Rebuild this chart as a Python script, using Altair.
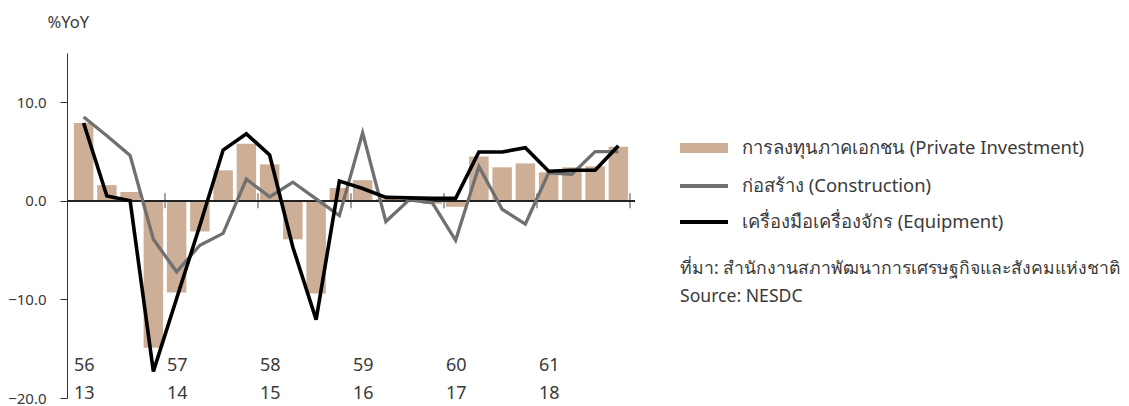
import altair as alt
import pandas as pd

# ---- data -------------------------------------------------------------
quarters = [f"{y}Q{q}" for y in range(2013, 2019) for q in range(1, 5)]
private_inv = [7.9, 1.6, 0.9, -14.9, -9.3, -3.1, 3.1, 5.8, 3.7, -3.9, -9.4, 1.3,
               2.1, 0.2, 0.1, -0.3, -0.6, 4.5, 3.4, 3.8, 2.9, 3.4, 3.5, 5.5]
construction = [8.5, 6.6, 4.6, -3.9, -7.2, -4.5, -3.3, 2.2, 0.4, 1.9, 0.2, -1.5,
                6.9, -2.1, 0.1, -0.2, -4.0, 3.5, -0.85, -2.35, 2.85, 2.7, 5.0, 5.0]
equipment = [7.9, 0.5, 0.0, -17.3, -9.9, -2.5, 5.15, 6.8, 4.65, -4.7, -12.05, 2.0,
             1.25, 0.35, 0.3, 0.25, 0.25, 4.95, 4.95, 5.4, 3.0, 3.1, 3.1, 5.6]
years_be = ["56", "57", "58", "59", "60", "61"]
years_ce = ["13", "14", "15", "16", "17", "18"]
y_ticks = [-20, -10, 0, 10]

legend_labels = ["การลงทุนภาคเอกชน (Private Investment)",
                 "ก่อสร้าง (Construction)",
                 "เครื่องมือเครื่องจักร (Equipment)"]
source_lines = ["ที่มา: สำนักงานสภาพัฒนาการเศรษฐกิจและสังคมแห่งชาติ",
                "Source: NESDC"]

FONT = "Noto Sans"
BAR_C = "#CDAE96"
GRAY_C = "#707070"
TXT_C = "#3a3a3a"

df = pd.DataFrame({"idx": list(range(len(quarters))), "quarter": quarters,
                   "pi": private_inv, "con": construction, "eq": equipment})
yr = pd.DataFrame({"start": [i * 4 for i in range(len(years_be))],
                   "be": years_be, "ce": years_ce})
bounds = pd.DataFrame({"b": [4 * (i + 1) for i in range(len(years_be))]})

W, H = 568, 345
xs = alt.Scale(domain=[0, 24], nice=False, zero=False)
ys = alt.Scale(domain=[-20, 15], nice=False)

base = alt.Chart(df).transform_calculate(xc="datum.idx + 0.5")

bars = base.mark_bar(width=19.5, color=BAR_C).encode(
    x=alt.X("xc:Q", scale=xs, axis=None),
    y=alt.Y("pi:Q", scale=ys,
            axis=alt.Axis(values=y_ticks, format=".1f", grid=False,
                          domainColor="#333", tickColor="#333", tickSize=7,
                          labelFontSize=15, labelColor=TXT_C, labelFont=FONT,
                          labelPadding=14,
                          title="%YoY", titleAngle=0, titleAlign="left",
                          titleBaseline="middle", titleX=-20, titleY=-30.5,
                          titleFontWeight="normal", titleFontSize=16.5,
                          titleColor=TXT_C, titleFont=FONT)),
    y2=alt.datum(0),
)

zero = alt.Chart(df).mark_rule(color="#222", strokeWidth=1.5).encode(
    x=alt.value(0), x2=alt.value(W), y=alt.datum(0, scale=ys)
)

ticks = alt.Chart(bounds).mark_tick(orient="vertical", color="#222",
                                    size=15, thickness=1.2).encode(
    x=alt.X("b:Q", scale=xs), y=alt.datum(0, scale=ys)
)

con_line = base.mark_line(color=GRAY_C, strokeWidth=3.3).encode(
    x=alt.X("xc:Q", scale=xs), y=alt.Y("con:Q", scale=ys)
)
eq_line = base.mark_line(color="#000000", strokeWidth=3.6).encode(
    x=alt.X("xc:Q", scale=xs), y=alt.Y("eq:Q", scale=ys)
)

lab_be = alt.Chart(yr).mark_text(align="left", baseline="middle", dx=2,
                                 fontSize=18, font=FONT, color=TXT_C).encode(
    x=alt.X("start:Q", scale=xs), y=alt.value(313), text="be:N")
lab_ce = alt.Chart(yr).mark_text(align="left", baseline="middle", dx=2,
                                 fontSize=18, font=FONT, color=TXT_C).encode(
    x=alt.X("start:Q", scale=xs), y=alt.value(341), text="ce:N")

# ---- manual legend ------------------------------------------------------
one = pd.DataFrame({"a": [0]})
LX0, LX1, TX = 613, 661, 675
leg_rect = alt.Chart(one).mark_rect(color=BAR_C).encode(
    x=alt.value(LX0), x2=alt.value(LX1), y=alt.value(90), y2=alt.value(100))
leg_gray = alt.Chart(one).mark_rule(color=GRAY_C, strokeWidth=4).encode(
    x=alt.value(LX0), x2=alt.value(LX1), y=alt.value(133))
leg_black = alt.Chart(one).mark_rule(color="#000", strokeWidth=4).encode(
    x=alt.value(LX0), x2=alt.value(LX1), y=alt.value(169))

leg_text = [alt.Chart(pd.DataFrame({"t": [t]})).mark_text(
    align="left", baseline="middle", fontSize=18.4, font=FONT, color=TXT_C).encode(
    x=alt.value(TX), y=alt.value(yv), text="t:N")
    for t, yv in zip(legend_labels, [95, 133, 169])]
src_text = [alt.Chart(pd.DataFrame({"t": [t]})).mark_text(
    align="left", baseline="middle", fontSize=17.6, font=FONT, color=TXT_C).encode(
    x=alt.value(613), y=alt.value(yv), text="t:N")
    for t, yv in zip(source_lines, [216, 244])]

chart = alt.layer(bars, zero, ticks, con_line, eq_line, lab_be, lab_ce,
                  leg_rect, leg_gray, leg_black, *leg_text, *src_text).properties(
    width=W, height=H,
    autosize=alt.AutoSizeParams(type="none"),
    padding={"left": 59, "top": 45, "right": 486, "bottom": 8},
).configure(background="white", view=alt.ViewConfig(stroke=None))

chart.save("out.html", embed_options={"renderer": "svg", "actions": False})
